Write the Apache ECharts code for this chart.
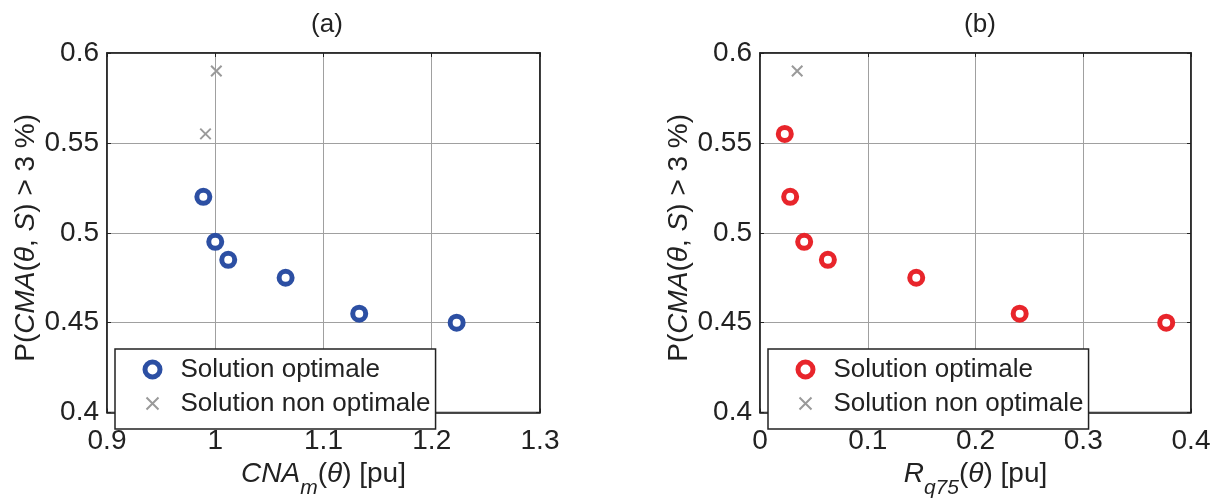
<!DOCTYPE html>
<html>
<head>
<meta charset="utf-8">
<script src="https://cdn.jsdelivr.net/npm/echarts@6/dist/echarts.min.js"></script>
<style>html,body{margin:0;padding:0;background:#fff}#c{width:1221px;height:504px}</style>
</head>
<body>
<div id="c"></div>
<script>
// ---- data ----
const titles = ['(a)', '(b)'];
const seriesNames = ['Solution optimale', 'Solution non optimale'];
const xRangeA = [0.9, 1.3];
const xRangeB = [0, 0.4];
const yRange = [0.4, 0.6];
const xStepA = 0.1;
const xStepB = 0.1;
const yStep = 0.05;
const optA_x = [0.989, 1.000, 1.012, 1.065, 1.133, 1.223];
const optA_y = [0.520, 0.495, 0.485, 0.475, 0.455, 0.450];
const nonA_x = [0.991, 1.001];
const nonA_y = [0.555, 0.590];
const optB_x = [0.023, 0.028, 0.041, 0.063, 0.145, 0.241, 0.377];
const optB_y = [0.555, 0.520, 0.495, 0.485, 0.475, 0.455, 0.450];
const nonB_x = [0.0345];
const nonB_y = [0.590];

const zip = (xs, ys) => xs.map((x, i) => [x, ys[i]]);

const FONT = "'Liberation Sans', Arial, sans-serif";
const TXT = '#222';
const BLUE = '#2C4FA3';
const RED = '#E8252B';
const GRAY = '#9a9a9a';
const GRIDC = '#a0a0a0';
const CROSS = 'path://M-1,-1L-1,-1M0,0L2,2M2,0L0,2M3,3L3,3';
const RING = 'path://M-4.5,-4.5L-4.5,-4.5M0,7.5A7.5,7.5,0,1,1,15,7.5A7.5,7.5,0,1,1,0,7.5ZM19.5,19.5L19.5,19.5';

const grids = [
  {left: 107, right: 1221 - 540, top: 53, bottom: 504 - 428, show: true, borderColor: '#222', borderWidth: 1.5, backgroundColor: '#fff'},
  {left: 760, right: 1221 - 1191, top: 53, bottom: 504 - 428, show: true, borderColor: '#222', borderWidth: 1.5, backgroundColor: '#fff'}
];

function xAxisFor(gi, range, step, name, rich) {
  return [{
    type: 'value', gridIndex: gi, min: range[0], max: range[1], interval: step,
    position: 'bottom',
    axisLine: {show: true, onZero: false, lineStyle: {color: '#222', width: 1.5}},
    axisTick: {show: true, inside: true, length: 4, lineStyle: {color: '#222'}},
    axisLabel: {fontSize: 28, fontFamily: FONT, color: TXT, margin: 15},
    splitLine: {show: true, lineStyle: {color: GRIDC, width: 1}},
    name: name, nameLocation: 'middle', nameGap: 29,
    nameTextStyle: {fontSize: 28, fontFamily: FONT, color: TXT, rich: rich}
  }, {
    type: 'value', gridIndex: gi, min: range[0], max: range[1], interval: step,
    position: 'top',
    axisLine: {show: true, onZero: false, lineStyle: {color: '#222', width: 1.5}},
    axisTick: {show: true, inside: true, length: 4, lineStyle: {color: '#222'}},
    axisLabel: {show: false}, splitLine: {show: false}
  }];
}
function yAxisFor(gi) {
  const rich = {i: {fontStyle: 'italic', fontSize: 28, fontFamily: FONT, color: TXT}};
  return [{
    type: 'value', gridIndex: gi, min: yRange[0], max: yRange[1], interval: yStep,
    position: 'left',
    axisLine: {show: true, onZero: false, lineStyle: {color: '#222', width: 1.5}},
    axisTick: {show: true, inside: true, length: 4, lineStyle: {color: '#222'}},
    axisLabel: {fontSize: 28, fontFamily: FONT, color: TXT, margin: 8},
    splitLine: {show: true, lineStyle: {color: GRIDC, width: 1}},
    name: 'P({i|CMA}({i|θ}, {i|S}) > 3 %)', nameLocation: 'middle', nameGap: 67,
    nameTextStyle: {fontSize: 28, fontFamily: FONT, color: TXT, rich: rich, padding: [0, 10, 0, 0]}
  }, {
    type: 'value', gridIndex: gi, min: yRange[0], max: yRange[1], interval: yStep,
    position: 'right',
    axisLine: {show: true, onZero: false, lineStyle: {color: '#222', width: 1.5}},
    axisTick: {show: true, inside: true, length: 4, lineStyle: {color: '#222'}},
    axisLabel: {show: false}, splitLine: {show: false}
  }];
}

const richX = {
  i: {fontStyle: 'italic', fontSize: 28, fontFamily: FONT, color: TXT},
  sub: {fontStyle: 'italic', fontSize: 21, fontFamily: FONT, color: TXT, padding: [28, 0, 0, 0]}
};

const xAxes = [].concat(
  xAxisFor(0, xRangeA, xStepA, '{i|CNA}{sub|m}({i|θ}) [pu]', richX),
  xAxisFor(1, xRangeB, xStepB, '{i|R}{sub|q75}({i|θ}) [pu]', richX)
);
const yAxes = [].concat(yAxisFor(0), yAxisFor(1));

function legendFor(left, ringColor) {
  return {
    orient: 'vertical', left: left, top: 349,
    itemWidth: 46, itemHeight: 24, itemGap: 5,
    padding: [6, 5, 11, 23],
    borderColor: '#222', borderWidth: 1.5, backgroundColor: '#fff',
    selectedMode: false,
    textStyle: {fontSize: 26, fontFamily: FONT, color: TXT},
    data: [
      {name: seriesNames[0], icon: RING, itemStyle: {color: '#fff', borderColor: ringColor, borderWidth: 5}},
      {name: seriesNames[1], icon: CROSS, itemStyle: {color: 'none', borderColor: GRAY, borderWidth: 2}}
    ]
  };
}

const option = {
  animation: false,
  backgroundColor: '#fff',
  title: [
    {text: titles[0], left: 322, top: 7, textAlign: 'center', textStyle: {fontSize: 26, fontWeight: 'normal', fontFamily: FONT, color: TXT}},
    {text: titles[1], left: 975, top: 7, textAlign: 'center', textStyle: {fontSize: 26, fontWeight: 'normal', fontFamily: FONT, color: TXT}}
  ],
  grid: grids,
  xAxis: xAxes,
  yAxis: yAxes,
  legend: [legendFor(115, BLUE), legendFor(768, RED)],
  series: [
    {name: seriesNames[0], type: 'scatter', xAxisIndex: 0, yAxisIndex: 0, data: zip(optA_x, optA_y),
     symbol: 'circle', symbolSize: 13, itemStyle: {color: '#fff', borderColor: BLUE, borderWidth: 5, opacity: 1}, z: 3},
    {name: seriesNames[1], type: 'scatter', xAxisIndex: 0, yAxisIndex: 0, data: zip(nonA_x, nonA_y),
     symbol: CROSS, symbolSize: 21, itemStyle: {color: 'none', borderColor: GRAY, borderWidth: 2, opacity: 1}, z: 3},
    {name: seriesNames[0], type: 'scatter', xAxisIndex: 2, yAxisIndex: 2, data: zip(optB_x, optB_y),
     symbol: 'circle', symbolSize: 13, itemStyle: {color: '#fff', borderColor: RED, borderWidth: 5, opacity: 1}, z: 3},
    {name: seriesNames[1], type: 'scatter', xAxisIndex: 2, yAxisIndex: 2, data: zip(nonB_x, nonB_y),
     symbol: CROSS, symbolSize: 21, itemStyle: {color: 'none', borderColor: GRAY, borderWidth: 2, opacity: 1}, z: 3}
  ]
};

const chart = echarts.init(document.getElementById('c'), null, {renderer: 'canvas'});
chart.setOption(option);
</script>
</body>
</html>
